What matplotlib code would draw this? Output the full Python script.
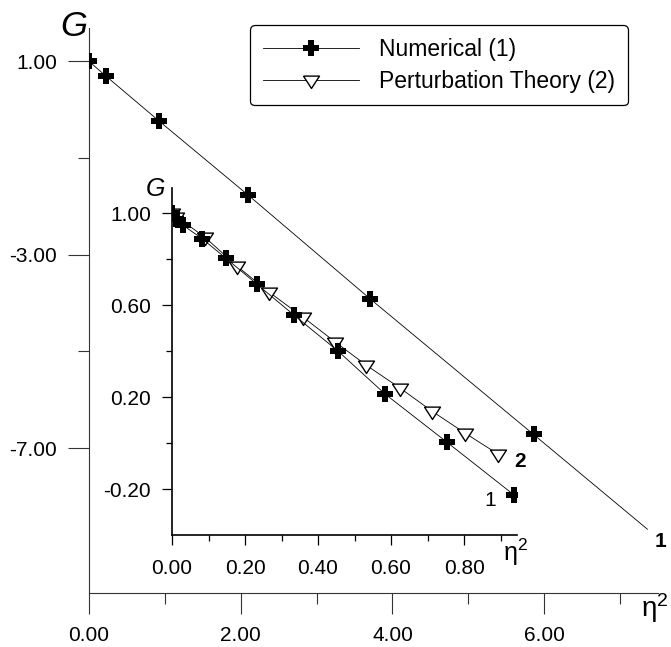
import matplotlib
matplotlib.use('Agg')
import matplotlib.pyplot as plt

plt.rcParams['font.family'] = ['Liberation Sans', 'DejaVu Sans']

# big plot: numerical solution (1), markers + where the line stops
eta2_main = [0.0, 0.22, 0.92, 2.10, 3.71, 5.86]
G_main = [1.00, 0.70, -0.23, -1.77, -3.92, -6.72]
eta2_main_end = 7.36
G_main_end = -8.68

# inset: numerical (1) and perturbation theory (2)
eta2_num = [0.0, 0.01, 0.03, 0.082, 0.148, 0.233, 0.334, 0.455, 0.584, 0.753, 0.937]
G_num = [1.00, 0.975, 0.948, 0.89, 0.804, 0.691, 0.557, 0.40, 0.213, 0.004, -0.226]
eta2_pt = [0.0, 0.012, 0.09, 0.178, 0.266, 0.359, 0.447, 0.532, 0.625, 0.712, 0.803, 0.893]
G_pt = [1.00, 0.985, 0.896, 0.77, 0.657, 0.548, 0.44, 0.339, 0.239, 0.139, 0.043, -0.048]

main_xticks = [0, 2, 4, 6]
main_yticks = [1, -3, -7]
ins_xticks = [0.0, 0.2, 0.4, 0.6, 0.8]
ins_yticks = [1.0, 0.6, 0.2, -0.2]

W, H = 671, 647
fig = plt.figure(figsize=(W / 100, H / 100), dpi=100)

# triangle pointing down, a bit wider than tall
tri = [(-1, 0.55), (1, 0.55), (0, -1.0), (-1, 0.55)]

ax = fig.add_axes([89 / W, (H - 593) / H, (658 - 89) / W, (593 - 28) / H])
ax.plot(eta2_main + [eta2_main_end], G_main + [G_main_end], color='k', lw=0.6, zorder=2)
ax.plot(eta2_main, G_main, ls='none', marker='P', ms=11.5, color='k', mew=0, zorder=3)
ax.set_xlim(0, 7.5)
ax.set_ylim(-10, 1.69)
ax.set_xticks(main_xticks)
ax.set_xticklabels(['%.2f' % v for v in main_xticks])
ax.set_xticks([1, 3, 5, 7], minor=True)
ax.set_yticks(main_yticks)
ax.set_yticklabels(['%.2f' % v for v in main_yticks])
ax.set_yticks([-1, -5], minor=True)
for s in ['top', 'right']:
    ax.spines[s].set_visible(False)
for s in ['left', 'bottom']:
    ax.spines[s].set_color('#333333')
    ax.spines[s].set_linewidth(0.8)
ax.tick_params(which='major', length=15, width=0.8, color='#333333', labelsize=15)
ax.tick_params(axis='x', which='major', pad=9)
ax.tick_params(axis='y', which='major', pad=8)
ax.tick_params(which='minor', length=8, width=0.8, color='#333333')
ax.text(7.53, -8.93, '1', fontsize=15, fontweight='bold', ha='center', va='center', clip_on=False)

ins = fig.add_axes([172 / W, (H - 535) / H, (517 - 172) / W, (535 - 188) / H])
ins.patch.set_alpha(0)
h1, = ins.plot(eta2_num, G_num, color='k', lw=0.6, marker='P', ms=11.5, mew=0, zorder=4)
h2, = ins.plot(eta2_pt, G_pt, color='k', lw=0.6, marker=tri, ms=11.5, mfc='white', mec='k', mew=1, zorder=3)
ins.set_xlim(0, 0.945)
ins.set_ylim(-0.40, 1.11)
ins.set_xticks(ins_xticks)
ins.set_xticklabels(['%.2f' % v for v in ins_xticks])
ins.set_xticks([0.1, 0.3, 0.5, 0.7, 0.9], minor=True)
ins.set_yticks(ins_yticks)
ins.set_yticklabels(['%.2f' % v for v in ins_yticks])
ins.set_yticks([0.8, 0.4, 0.0], minor=True)
for s in ['top', 'right']:
    ins.spines[s].set_visible(False)
for s in ['left', 'bottom']:
    ins.spines[s].set_linewidth(1.2)
ins.tick_params(which='major', length=7, width=0.9, labelsize=15)
ins.tick_params(axis='x', which='major', pad=10)
ins.tick_params(axis='y', which='major', pad=8)
ins.tick_params(which='minor', length=4, width=0.9)
ins.text(0.871, -0.248, '1', fontsize=15, ha='center', va='center')
ins.text(0.953, -0.078, '2', fontsize=15, fontweight='bold', ha='center', va='center', clip_on=False)

# axis labels
fig.text(74 / W, 1 - 26 / H, 'G', fontsize=25, style='italic', ha='center', va='center')
fig.text(156 / W, 1 - 189 / H, 'G', fontsize=18, style='italic', ha='center', va='center')
fig.text(655 / W, 1 - 608 / H, r'$\mathregular{η^2}$', fontsize=20, ha='center', va='center')
fig.text(516 / W, 1 - 552 / H, r'$\mathregular{η^2}$', fontsize=18, ha='center', va='center')

leg = fig.legend([h1, h2], ['Numerical (1)', 'Perturbation Theory (2)'],
                 loc='upper right', bbox_to_anchor=(628 / W, 1 - 25 / H), borderaxespad=0,
                 fontsize=16.5, numpoints=1, handlelength=4.2, handletextpad=0.9,
                 labelspacing=0.4, borderpad=0.55, fancybox=True, framealpha=1)
leg.get_frame().set_edgecolor('k')
leg.get_frame().set_linewidth(0.9)

fig.savefig('out.png', dpi=100)
